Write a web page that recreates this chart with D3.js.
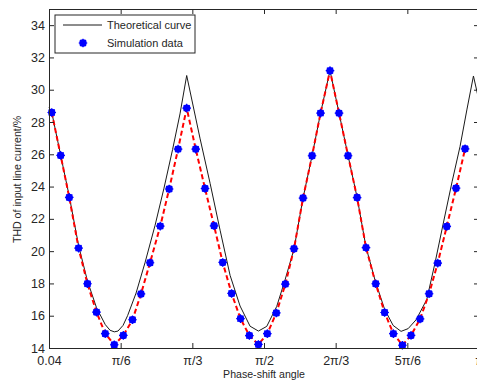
<!DOCTYPE html>
<html>
<head>
<meta charset="utf-8">
<script src="https://cdn.jsdelivr.net/npm/d3@7"></script>
<style>
  body { margin: 0; background: #fff; overflow: hidden; }
  svg { display: block; }
</style>
</head>
<body>
<script>
// chart.js
const width = 477;
const height = 383;
const margin = {top: 9, right: -2, bottom: 35, left: 49};

// tick positions (rad) and their labels
const tickVals = [0, 0.5236, 1.0472, 1.5708, 2.0944, 2.618, 3.1416];
const tickLabels = ['0.04', 'π/6', 'π/3', 'π/2', '2π/3', '5π/6', 'π'];
const yTicks = [14, 16, 18, 20, 22, 24, 26, 28, 30, 32, 34];

// theoretical curve
const theoX = [0.000, 0.020, 0.085, 0.148, 0.216, 0.281, 0.347, 0.411, 0.446, 0.477, 0.504,
  0.541, 0.574, 0.636, 0.702, 0.775, 0.840, 0.903, 0.957, 1.006,
  1.103, 1.177, 1.250, 1.323, 1.396, 1.469, 1.530,
  1.591, 1.664, 1.725, 1.790, 1.856, 1.922, 1.984, 2.053,
  2.119, 2.185, 2.251, 2.316, 2.387, 2.452, 2.514, 2.572,
  2.624, 2.682, 2.760, 2.821, 2.881, 2.945, 3.003, 3.054, 3.101, 3.142];
const theoY = [28.9, 28.6, 25.95, 23.4, 20.35, 18.15, 16.5, 15.45, 15.1, 15.0, 15.05,
  15.4, 16.0, 17.4, 19.3, 21.6, 23.9, 26.3, 28.5, 30.88,
  27.0, 24.2, 21.3, 18.5, 16.6, 15.35, 15.05,
  15.34, 16.58, 18.23, 20.13, 23.29, 25.91, 28.55, 31.19,
  28.55, 25.91, 23.33, 20.25, 18.05, 16.4, 15.4, 15.03,
  15.2, 15.75, 17.0, 19.3, 21.74, 24.3, 26.48, 28.8, 30.85, 29.3];

// simulation data
const simX = [0.020, 0.085, 0.148, 0.216, 0.281, 0.347, 0.411, 0.477, 0.543, 0.610,
  0.672, 0.738, 0.813, 0.878, 0.943, 1.006, 1.072, 1.140, 1.206, 1.269,
  1.334, 1.399, 1.464, 1.530, 1.595, 1.661, 1.727, 1.790, 1.856, 1.922,
  1.984, 2.053, 2.119, 2.185, 2.251, 2.316, 2.387, 2.452, 2.516, 2.582,
  2.645, 2.711, 2.777, 2.840, 2.906, 2.974, 3.040];
const simY = [28.59, 25.93, 23.33, 20.19, 17.98, 16.22, 14.89, 14.2, 14.78, 15.75,
  17.35, 19.28, 21.55, 23.85, 26.32, 28.86, 26.32, 23.88, 21.57, 19.3,
  17.38, 15.82, 14.77, 14.22, 14.89, 16.17, 17.96, 20.15, 23.29, 25.91,
  28.55, 31.18, 28.55, 25.91, 23.32, 20.22, 17.98, 16.2, 14.89, 14.17,
  14.78, 15.8, 17.36, 19.26, 21.53, 23.9, 26.34];

const theo = theoX.map((d, i) => ({x: d, y: theoY[i]}));
const sim = simX.map((d, i) => ({x: d, y: simY[i]}));

const x = d3.scaleLinear()
  .domain([0, Math.PI])
  .range([margin.left, width - margin.right]);

const y = d3.scaleLinear()
  .domain([14, 35])
  .range([height - margin.bottom, margin.top]);

const svg = d3.select('body').append('svg')
  .attr('width', width)
  .attr('height', height)
  .style('font-family', 'Liberation Sans, Arial, sans-serif');

const line = d3.line()
  .x(d => x(d.x))
  .y(d => y(d.y));

svg.append('path')
  .datum(theo)
  .attr('fill', 'none')
  .attr('stroke', '#1a1a1a')
  .attr('stroke-width', 1)
  .attr('d', line);

svg.append('path')
  .datum(sim)
  .attr('fill', 'none')
  .attr('stroke', '#ff0000')
  .attr('stroke-width', 2)
  .attr('stroke-dasharray', '5,3')
  .attr('d', line);

// blue '*' + filled 'o' markers
function marker(g) {
  g.append('circle').attr('r', 3.7).attr('fill', '#0000ff');
  g.append('path')
    .attr('d', 'M-4.3,0H4.3M0,-4.3V4.3M-3,-3L3,3M-3,3L3,-3')
    .attr('stroke', '#0000ff')
    .attr('stroke-width', 1.2);
}

svg.append('g').selectAll('g')
  .data(sim)
  .join('g')
  .attr('transform', d => `translate(${x(d.x)},${y(d.y)})`)
  .each(function() { marker(d3.select(this)); });

// axes, ticks inward on all four sides
const xAxis = g => g
  .attr('transform', `translate(0,${height - margin.bottom})`)
  .call(d3.axisBottom(x).tickValues(tickVals).tickFormat((d, i) => tickLabels[i])
    .tickSize(-5).tickSizeOuter(0).tickPadding(8));

const xTop = g => g
  .attr('transform', `translate(0,${margin.top})`)
  .call(d3.axisTop(x).tickValues(tickVals).tickFormat('').tickSize(-5).tickSizeOuter(0));

const yAxis = g => g
  .attr('transform', `translate(${margin.left},0)`)
  .call(d3.axisLeft(y).tickValues(yTicks).tickSize(-5).tickSizeOuter(0).tickPadding(4));

const yRight = g => g
  .attr('transform', `translate(${width - margin.right},0)`)
  .call(d3.axisRight(y).tickValues(yTicks).tickFormat('').tickSize(-5).tickSizeOuter(0));

for (const ax of [xAxis, xTop, yAxis, yRight]) {
  svg.append('g').call(ax)
    .call(g => g.selectAll('path, line').attr('stroke', '#262626'))
    .call(g => g.selectAll('text')
      .attr('fill', '#262626')
      .attr('font-size', '12.5px')
      .attr('font-family', 'Liberation Sans, Arial, sans-serif'));
}

// titles
svg.append('text')
  .attr('x', (margin.left + width - margin.right) / 2)
  .attr('y', 378)
  .attr('text-anchor', 'middle')
  .attr('font-size', '10.6px')
  .attr('fill', '#262626')
  .text('Phase-shift angle');

svg.append('text')
  .attr('transform', `translate(21,${(margin.top + height - margin.bottom) / 2 + 1}) rotate(-90)`)
  .attr('text-anchor', 'middle')
  .attr('font-size', '10.6px')
  .attr('fill', '#262626')
  .text('THD of input line current/%');

// legend
const legend = svg.append('g').attr('transform', 'translate(55,15)');
legend.append('rect')
  .attr('width', 140).attr('height', 38)
  .attr('fill', '#fff').attr('stroke', '#262626').attr('stroke-width', 1);
legend.append('line')
  .attr('x1', 8).attr('x2', 47).attr('y1', 10).attr('y2', 10)
  .attr('stroke', '#1a1a1a').attr('stroke-width', 1);
legend.append('g').attr('transform', 'translate(28,28)').call(marker);
legend.selectAll('text.lab')
  .data(['Theoretical curve', 'Simulation data'])
  .join('text')
  .attr('class', 'lab')
  .attr('x', 52)
  .attr('y', (d, i) => 10 + i * 18)
  .attr('dy', '0.35em')
  .attr('font-size', '11px')
  .attr('fill', '#262626')
  .text(d => d);
</script>
</body>
</html>
